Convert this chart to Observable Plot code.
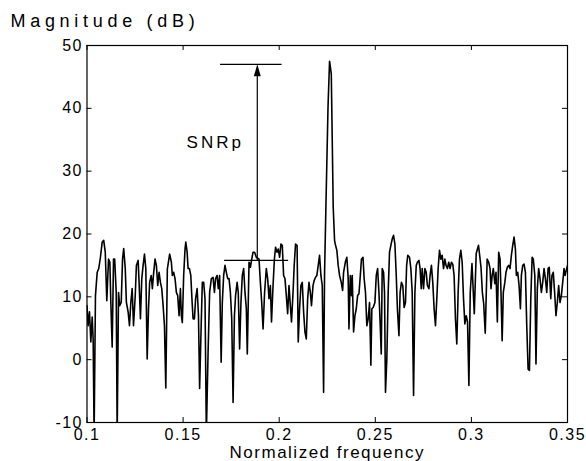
<!DOCTYPE html>
<html><head><meta charset="utf-8">
<script src="https://cdn.jsdelivr.net/npm/d3@7"></script>
<script src="https://cdn.jsdelivr.net/npm/@observablehq/plot@0.6"></script>
<style>
body{margin:0;background:#fff}
svg{display:block}
svg text{letter-spacing:1.5px}
svg .title text{letter-spacing:4.7px}
svg .snr text{letter-spacing:3px}
</style>
</head><body><div id="chart"></div>
<script>
const spectrum = [
[0.1000,8.6],[0.1006,5.4],[0.1013,7.6],[0.1020,2.8],[0.1027,6.8],[0.1032,3.3],[0.1037,-12],[0.1044,10.2],[0.1053,13.9],[0.1061,14.5],[0.1070,16.3],[0.1079,18.7],[0.1087,19],[0.1095,17.1],[0.1103,9.4],[0.1112,16],[0.1119,15.5],[0.1124,9.1],[0.1131,2],[0.1138,16],[0.1144,16],[0.1152,10.7],[0.1157,-12],[0.1164,10.7],[0.1170,8.6],[0.1178,9.1],[0.1185,16],[0.1191,17.7],[0.1199,14.5],[0.1205,9.1],[0.1214,7.6],[0.1221,5.4],[0.1228,9.1],[0.1235,11.3],[0.1242,5.4],[0.1251,10.2],[0.1257,15],[0.1266,15.8],[0.1271,12.3],[0.1278,6.5],[0.1285,12.9],[0.1292,15],[0.1299,16.8],[0.1306,14.5],[0.1313,0.1],[0.1320,8.1],[0.1326,12.3],[0.1334,13.4],[0.1340,11.3],[0.1347,13.9],[0.1354,16],[0.1361,15],[0.1368,11.8],[0.1375,13.9],[0.1382,12.3],[0.1389,11.3],[0.1396,8.6],[0.1403,5.4],[0.1410,-4.5],
[0.1418,14.4],[0.1430,16.8],[0.1439,15.5],[0.1444,13.4],[0.1451,13.9],[0.1458,12.9],[0.1465,10.7],[0.1472,10.2],[0.1479,7],[0.1486,11.3],[0.1491,7],[0.1496,5.9],[0.1503,13.4],[0.1510,17.6],[0.1514,18.7],[0.1521,17.1],[0.1526,14.5],[0.1533,14.5],[0.1540,13.4],[0.1547,9.1],[0.1552,6.5],[0.1559,6.5],[0.1565,9.7],[0.1573,11.3],[0.1580,7],[0.1586,-4.6],[0.1594,5.4],[0.1600,12.3],[0.1607,12.3],[0.1614,9.7],[0.1621,-12],[0.1630,1.2],[0.1638,10.7],[0.1647,12.9],[0.1656,13.1],[0.1663,10.7],[0.1669,12.9],[0.1677,13.4],[0.1683,11.3],[0.1690,13.4],[0.1698,-0.4],[0.1704,9.1],[0.1711,13.4],[0.1718,15],[0.1725,13.9],[0.1732,12.9],[0.1739,12.9],[0.1746,10.7],[0.1753,6.5],[0.1760,-6.8],[0.1767,7],[0.1773,10.2],[0.1781,12.3],[0.1787,10.7],[0.1794,1.7],[0.1801,9.1],[0.1808,13.4],[0.1815,14.5],[0.1822,10.7],[0.1829,8.1],
[0.1834,0.9],[0.1843,15.5],[0.1850,14.7],[0.1857,16],[0.1864,17.1],[0.1872,17.1],[0.1881,16.3],[0.1895,16],[0.1902,12.3],[0.1909,9.1],[0.1916,4.9],[0.1924,10.7],[0.1933,14.5],[0.1940,12.9],[0.1947,9.7],[0.1954,11.8],[0.1960,6],[0.1968,11.8],[0.1975,16],[0.1981,17.9],[0.1989,17.1],[0.1995,17.6],[0.2002,16.3],[0.2009,18.4],[0.2016,18.2],[0.2023,13.4],[0.2030,12.9],[0.2037,10.2],[0.2044,7.3],[0.2051,11.8],[0.2058,8.6],[0.2064,6],[0.2072,10.7],[0.2078,15],[0.2085,18.4],[0.2093,18.2],[0.2099,2.8],[0.2106,8.1],[0.2113,11.8],[0.2120,12.3],[0.2127,7.6],[0.2134,4.4],[0.2141,3.3],[0.2148,9.7],[0.2155,12.3],[0.2162,10.7],[0.2168,8.6],[0.2176,11.8],[0.2182,12.6],[0.2189,13.1],[0.2196,13.4],[0.2203,15],[0.2210,16.6],[0.2217,13.4],[0.2224,11.8],[0.2231,-5.2],[0.2236,13.7],[0.2243,24.3],[0.2254,40.2],[0.2262,47.5],[0.2271,45.5],[0.2276,34.9],[0.2281,24.3],
[0.2288,19],[0.2293,18.2],[0.2300,17.4],[0.2307,15],[0.2314,13.4],[0.2323,12.3],[0.2330,11],[0.2335,13.9],[0.2344,15.5],[0.2352,16.3],[0.2359,12.9],[0.2363,4.9],[0.2370,13.4],[0.2376,10.2],[0.2380,13.4],[0.2387,4.4],[0.2394,7],[0.2401,8.1],[0.2408,10.2],[0.2415,10.5],[0.2422,13.4],[0.2428,16],[0.2436,16.3],[0.2442,12.9],[0.2449,10.7],[0.2456,5.4],[0.2463,6.5],[0.2470,9.1],[0.2477,-0.9],[0.2482,8.1],[0.2489,8.3],[0.2498,9.1],[0.2505,13.4],[0.2512,14.5],[0.2519,10.7],[0.2525,6],[0.2531,0.9],[0.2536,14.5],[0.2543,13.9],[0.2548,10.7],[0.2553,-5.2],[0.2560,0.1],[0.2567,10.7],[0.2574,17.1],[0.2581,18.2],[0.2588,19.2],[0.2595,19.8],[0.2602,18.4],[0.2609,13.4],[0.2615,8.1],[0.2623,3.8],[0.2629,10.7],[0.2636,12.3],[0.2643,11.8],[0.2650,8.3],[0.2657,9.1],
[0.2663,15],[0.2669,16.6],[0.2678,16.3],[0.2685,14.5],[0.2692,10.7],[0.2699,-5.7],[0.2706,10.7],[0.2713,15],[0.2719,15.5],[0.2727,15.8],[0.2733,14.5],[0.2739,11.3],[0.2744,14.5],[0.2751,11.3],[0.2758,14.5],[0.2765,13.9],[0.2771,11.8],[0.2779,11.3],[0.2785,13.4],[0.2792,15],[0.2799,12.3],[0.2806,8.1],[0.2813,5.4],[0.2820,9.7],[0.2827,14.5],[0.2834,17.4],[0.2841,16],[0.2848,16.6],[0.2855,14.5],[0.2862,16],[0.2868,15],[0.2875,14.5],[0.2882,15.5],[0.2889,14.5],[0.2896,15.5],[0.2903,15.2],[0.2910,13.4],[0.2917,6.5],[0.2924,2.5],[0.2931,10.7],[0.2938,16],[0.2945,17.4],[0.2952,15.5],[0.2959,9.7],[0.2966,5.7],[0.2973,7],[0.2980,6],[0.2987,-4.1],[0.2994,10.7],[0.3003,15.3],[0.3015,7.3],[0.3025,16.9],[0.3037,18.2],[0.3050,14.7],[0.3057,10.7],[0.3064,8.9],[0.3072,4.2],
[0.3082,16],[0.3090,15.5],[0.3097,14.5],[0.3102,11.3],[0.3108,13.4],[0.3114,14.5],[0.3122,12.1],[0.3128,13.9],[0.3135,6],[0.3142,17.1],[0.3149,16],[0.3154,10.7],[0.3160,3],[0.3166,10.7],[0.3174,12.3],[0.3180,13.9],[0.3187,14.7],[0.3194,15],[0.3201,14.5],[0.3208,16.6],[0.3215,18.2],[0.3222,19.5],[0.3229,17.6],[0.3234,13.4],[0.3241,13.9],[0.3248,11.8],[0.3255,8.1],[0.3260,13.4],[0.3267,15],[0.3274,15.2],[0.3281,13.9],[0.3288,5.4],[0.3295,-1.5],[0.3302,-1.7],[0.3309,9.7],[0.3316,16.3],[0.3322,16],[0.3330,13.4],[0.3336,-0.7],[0.3343,11.3],[0.3350,14.5],[0.3357,12.9],[0.3364,10.7],[0.3371,12.3],[0.3378,14.5],[0.3385,12.9],[0.3392,10.7],[0.3399,14.5],[0.3405,14.7],[0.3413,9.7],[0.3419,13.4],[0.3426,13.9],[0.3433,10.7],[0.3440,7],[0.3447,9.1],[0.3454,11.8],[0.3461,9.1],[0.3468,10.2],[0.3475,12.3],[0.3482,14.5],[0.3487,13.4],[0.3500,15]
];
const xTicks = [0.1, 0.15, 0.2, 0.25, 0.3, 0.35];
const xTickLabels = ["0.1", "0.15", "0.2", "0.25", "0.3", "0.35"];
const yTicks = [-10, 0, 10, 20, 30, 40, 50];
const yTickLabels = ["-10", "0", "10", "20", "30", "40", "50"];
const snrFreq = 0.1886;
const snrLevels = [15.8, 47];          // noise floor, peak
const floorLine = [0.1716, 0.2049];
const peakLine = [0.1695, 0.2015];
const annotation = ["SNRp"];
const annotationPos = [0.1518, 34.5];
const yTitle = ["Magnitude (dB)"];
const xTitle = ["Normalized frequency"];

const W = 586, H = 461, mL = 86.5, mR = 19, mT = 45, mB = 39;
const fw = W - mL - mR, fh = H - mT - mB;

const chart = Plot.plot({
  width: W, height: H,
  marginLeft: mL, marginRight: mR, marginTop: mT, marginBottom: mB,
  style: {fontFamily: "'Liberation Sans', Arial, Helvetica, sans-serif", fontSize: "16px", background: "white", color: "black", overflow: "visible"},
  x: {domain: [0.1, 0.35]},
  y: {domain: [-10, 50]},
  marks: [
    Plot.axisX({ticks: xTicks, tickSize: 0, tickPadding: 6, tickFormat: d => xTickLabels[xTicks.indexOf(d)], label: null, fontSize: 16}),
    Plot.axisY({ticks: yTicks, tickSize: 0, tickPadding: 4, tickFormat: d => yTickLabels[yTicks.indexOf(d)], label: null, fontSize: 16}),
    Plot.tickX(xTicks, {x: d => d, insetTop: fh - 5, stroke: "black"}),
    Plot.tickX(xTicks, {x: d => d, insetBottom: fh - 5, stroke: "black"}),
    Plot.tickY(yTicks, {y: d => d, insetRight: fw - 5, stroke: "black"}),
    Plot.tickY(yTicks, {y: d => d, insetLeft: fw - 5, stroke: "black"}),
    Plot.line(spectrum, {x: d => d[0], y: d => d[1], stroke: "black", strokeWidth: 1.6, clip: true}),
    Plot.ruleY([snrLevels[1]], {y: d => d, x1: peakLine[0], x2: peakLine[1], stroke: "black", strokeWidth: 1.2}),
    Plot.ruleY([snrLevels[0]], {y: d => d, x1: floorLine[0], x2: floorLine[1], stroke: "black", strokeWidth: 1.2}),
    Plot.ruleX([snrFreq], {x: d => d, y1: snrLevels[0], y2: snrLevels[1] - 1.5, stroke: "black", strokeWidth: 1.2}),
    Plot.vector([snrFreq], {x: d => d, y: snrLevels[1], length: 12, r: 3.5, shape: "spike", anchor: "end", fill: "black", stroke: "none"}),
    Plot.text(annotation, {text: d => d, x: annotationPos[0], y: annotationPos[1], textAnchor: "start", fontSize: 17, className: "snr"}),
    Plot.text(yTitle, {text: d => d, frameAnchor: "top-left", dx: -(mL - 10), dy: -31, textAnchor: "start", fontSize: 18, className: "title"}),
    Plot.text(xTitle, {text: d => d, frameAnchor: "bottom", dy: 35, fontSize: 17}),
    Plot.frame({stroke: "black", strokeWidth: 1.2})
  ]
});
document.getElementById("chart").appendChild(chart);
</script>
</body></html>
